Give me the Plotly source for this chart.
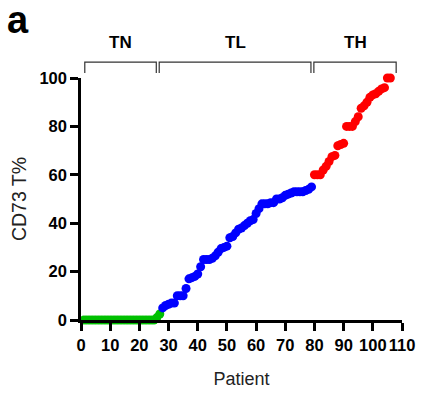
import plotly.graph_objects as go

# Patient index and CD73 T% values per group
tn_x = list(range(1, 28))
tn_y = [0]*25 + [1, 2.5]

tl_x = list(range(28, 80))
tl_y = [5, 6, 6.5, 7, 7, 10, 10, 10, 13, 17, 17.5, 18, 19, 22, 25, 25, 25, 25.5,
        26.5, 28, 29.5, 30, 30.5, 34, 34.5, 36, 37.5, 38, 39, 40, 41, 41.5, 44, 46,
        48, 48, 48, 48.5, 48.5, 50, 50, 50.5, 51.5, 52, 52.5, 53, 53, 53, 53, 53.5,
        54, 55]

th_x = list(range(80, 107))
th_y = [60, 60, 60, 62, 63.5, 65.5, 67.5, 68, 72, 72.5, 73, 80, 80, 80, 82, 84,
        87.5, 88.5, 90, 92, 93, 93.5, 94.5, 95.5, 96, 100, 100]

group_names = ["TN", "TL", "TH"]
group_spans = [(1.3, 25.8), (26.8, 78.8), (79.8, 108)]

x_ticks = list(range(0, 111, 10))
y_ticks = list(range(0, 101, 20))

FONT = "Liberation Sans, Arial"

fig = go.Figure()
for xs, ys, col in [(tn_x, tn_y, "#00c000"), (tl_x, tl_y, "#0000ff"), (th_x, th_y, "#ff0000")]:
    fig.add_trace(go.Scatter(x=xs, y=ys, mode="markers",
                             marker=dict(color=col, size=9, line=dict(width=0)),
                             cliponaxis=False, showlegend=False))

tickfont = dict(family=FONT, size=16.5, color="black", weight="bold")
fig.update_xaxes(range=[0, 110], tickvals=x_ticks, ticktext=[str(t) for t in x_ticks],
                 showgrid=False, zeroline=False, showline=True, linecolor="black",
                 linewidth=2.5, ticks="outside", ticklen=8, tickwidth=2.5,
                 tickcolor="black", tickfont=tickfont,
                 title=dict(text="Patient", font=dict(family=FONT, size=18, color="#222"),
                            standoff=20))
fig.update_yaxes(range=[0, 100], tickvals=y_ticks, showgrid=False, zeroline=False,
                 showline=True, linecolor="black", linewidth=2.5, ticks="outside",
                 ticklen=8, tickwidth=2.5, tickcolor="black", tickfont=tickfont,
                 title=dict(text="CD73 T%", font=dict(family=FONT, size=19.5, color="#222"),
                            standoff=8))

y_top = 1.0656
y_bot = 1.0205
for name, (a, b) in zip(group_names, group_spans):
    fig.add_shape(type="path", xref="x", yref="paper",
                  path=f"M {a} {y_bot} L {a} {y_top} L {b} {y_top} L {b} {y_bot}",
                  line=dict(color="#333", width=1.2))
    fig.add_annotation(x=(a + b) / 2, y=1.145, xref="x", yref="paper", text=name,
                       showarrow=False, yanchor="middle",
                       font=dict(family=FONT, size=17, color="black", weight="bold"))

fig.add_annotation(x=-0.195, y=1.238, xref="paper", yref="paper", text="a",
                   showarrow=False, xanchor="center", yanchor="middle",
                   font=dict(family=FONT, size=38, color="black", weight="bold"))

fig.update_layout(width=427, height=398, margin=dict(l=81, r=18, t=78, b=76),
                  plot_bgcolor="white", paper_bgcolor="white")
fig.write_html("out.html")
